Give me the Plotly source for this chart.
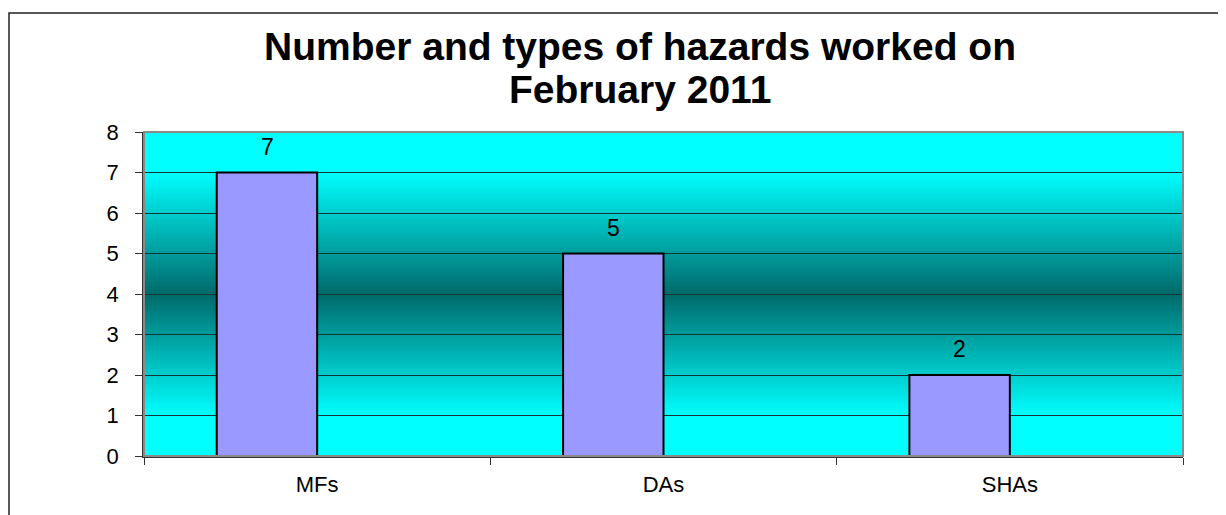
import plotly.graph_objects as go

categories = ["MFs", "DAs", "SHAs"]
values = [7, 5, 2]
y_ticks = [0, 1, 2, 3, 4, 5, 6, 7, 8]
title_lines = ["Number and types of hazards worked on", "February 2011"]

FONT = "Liberation Sans, Arial, sans-serif"
OFF = 8  # page body margin offset
PL, PR, PT, PB = 144 - OFF, 1183 - OFF, 132 - OFF, 456 - OFF
W, H = 1226, 515
PW, PH = PR - PL, PB - PT

fig = go.Figure()
fig.add_trace(go.Bar(
    x=categories, y=values,
    width=0.29, offset=-0.29,
    marker=dict(color="#9999FF", line=dict(color="#000000", width=2)),
    cliponaxis=False,
))

# vertical gradient background (cyan -> dark teal -> cyan)
def shade(v):
    dark = 105
    if v >= 7 or v <= 1:
        c = 255
    elif v >= 4:
        c = dark + (255 - dark) * (v - 4) / 3
    else:
        c = dark + (255 - dark) * (4 - v) / 3
    c = int(round(c))
    return f"rgb(0,{c},{c})"

shapes = []
n = 100
step = 6 / n
for i in range(n):
    y0 = 1 + step * i
    shapes.append(dict(type="rect", xref="paper", yref="y", x0=0, x1=1,
                       y0=y0, y1=y0 + step * 2.2, fillcolor=shade(y0 + step / 2),
                       line=dict(width=0), layer="below"))
# outer chart border
shapes.append(dict(type="rect", xref="paper", yref="paper",
                   x0=(8 - OFF - PL + 1) / PW, x1=1.08, y0=-0.3, y1=(PB - (13 - OFF)) / PH,
                   line=dict(color="#222222", width=1.5), fillcolor="rgba(0,0,0,0)",
                   layer="above"))
# plot area border (top/right)
shapes.append(dict(type="rect", xref="paper", yref="paper", x0=0, x1=1, y0=0, y1=1,
                   line=dict(color="#8a8a8a", width=2), fillcolor="rgba(0,0,0,0)",
                   layer="above"))

annotations = [
    dict(text=f"<b>{title_lines[0]}</b>", xref="paper", yref="paper",
         x=(640 - OFF - PL) / PW, y=(PB - (47 - OFF)) / PH, xanchor="center", yanchor="middle",
         showarrow=False, font=dict(family=FONT, size=39, color="#000000")),
    dict(text=f"<b>{title_lines[1]}</b>", xref="paper", yref="paper",
         x=(640 - OFF - PL) / PW, y=(PB - (89 - OFF)) / PH, xanchor="center", yanchor="middle",
         showarrow=False, font=dict(family=FONT, size=39, color="#000000")),
]
# data labels above each bar
for cat, v in zip(categories, values):
    annotations.append(dict(text=str(v), x=cat, y=v, xref="x", yref="y",
                            xshift=-50, yshift=26, yanchor="middle", xanchor="center",
                            showarrow=False,
                            font=dict(family=FONT, size=23, color="#000000")))

fig.update_layout(
    width=W, height=H,
    margin=dict(l=PL, r=W - PR, t=PT, b=H - PB, autoexpand=False),
    paper_bgcolor="#FFFFFF",
    plot_bgcolor="#00FFFF",
    showlegend=False,
    shapes=shapes,
    annotations=annotations,
    xaxis=dict(type="category", range=[-0.5, 2.5], showgrid=False, automargin=False,
               tickson="boundaries", ticks="outside", ticklen=7, tickcolor="#333333",
               showline=True, linecolor="#333333", linewidth=1.5,
               tickfont=dict(family=FONT, size=22, color="#000000"),
               ticklabelstandoff=8),
    yaxis=dict(range=[0, 8], tickvals=y_ticks, showgrid=True, gridcolor="#153535",
               gridwidth=1, ticks="outside", ticklen=7, tickcolor="#333333",
               showline=True, linecolor="#333333", linewidth=1.5, zeroline=False,
               automargin=False,
               tickfont=dict(family=FONT, size=22, color="#000000"),
               ticklabelstandoff=12),
)

fig.write_html("out.html")
